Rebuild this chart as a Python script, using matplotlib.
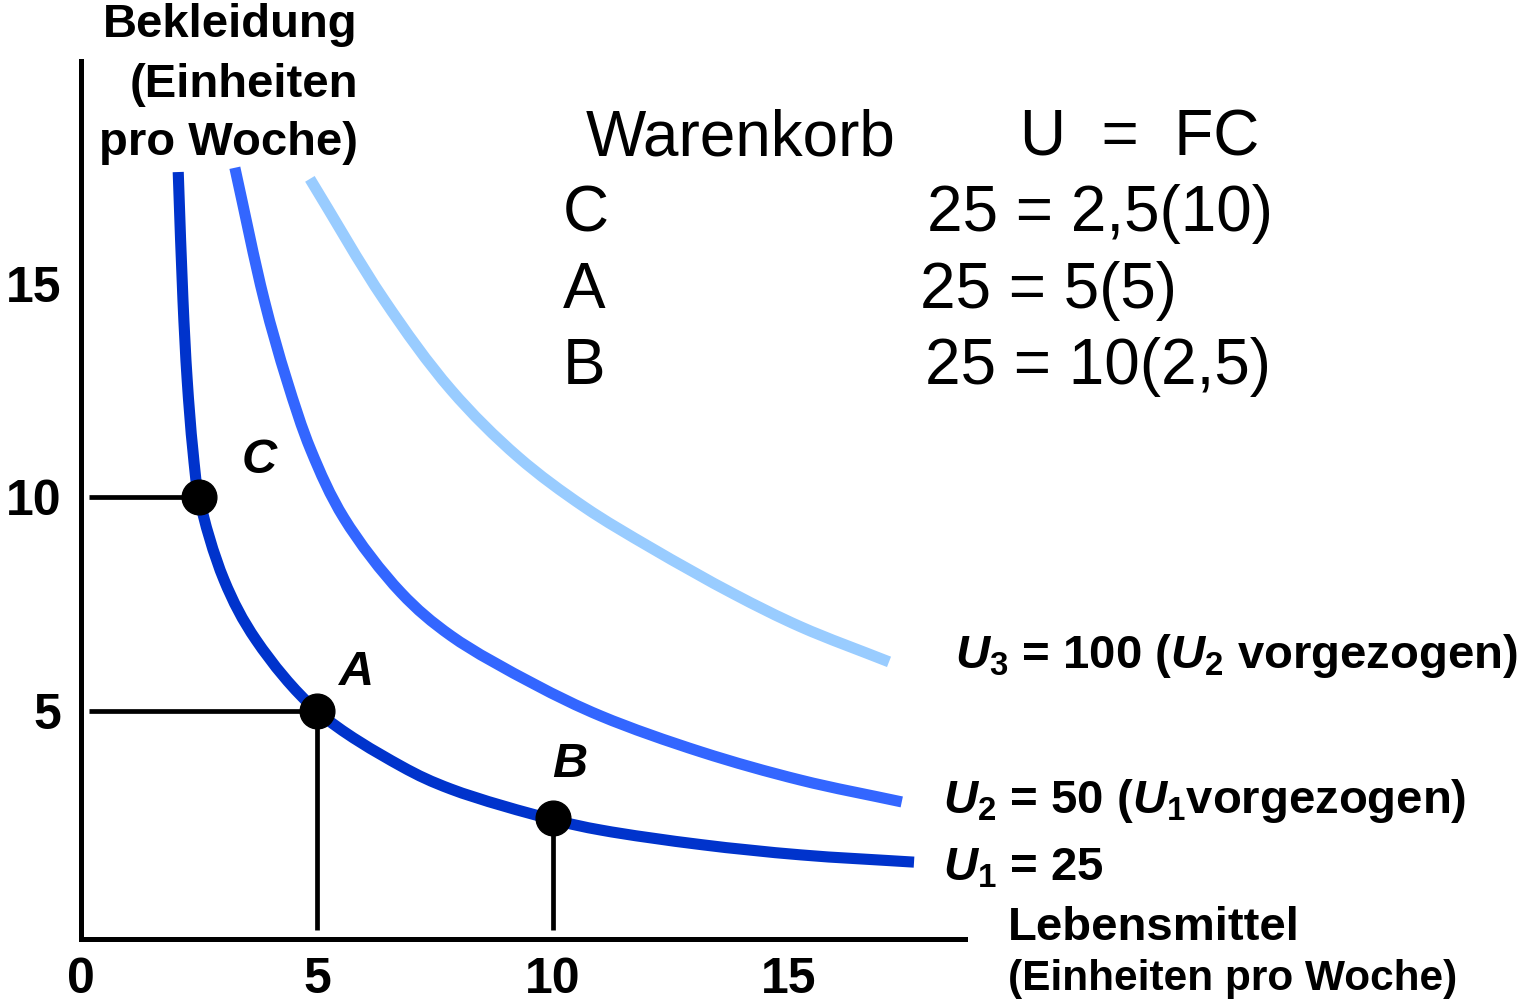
import numpy as np
import matplotlib
matplotlib.use("Agg")
import matplotlib.pyplot as plt
from matplotlib.path import Path
from matplotlib.patches import PathPatch

plt.rcParams['font.family'] = ['Liberation Sans', 'DejaVu Sans']
plt.rcParams['mathtext.fontset'] = 'custom'
plt.rcParams['mathtext.it'] = 'Liberation Sans:italic:bold'
plt.rcParams['mathtext.rm'] = 'Liberation Sans:bold'
plt.rcParams['mathtext.bf'] = 'Liberation Sans:bold'

# ---- data ----
u1_x = [2.06, 2.16, 2.25, 2.37, 2.5, 3.03, 3.71, 5.0, 6.78, 7.84, 10.02, 11.02, 13.14, 15.25, 17.65]
u1_y = [17.62, 14.63, 12.75, 11.11, 10.0, 8.07, 6.66, 5.0, 3.71, 3.17, 2.45, 2.21, 1.87, 1.63, 1.46]
u2_x = [3.26, 3.88, 4.36, 4.87, 5.57, 6.78, 7.84, 9.60, 11.02, 13.14, 15.25, 17.39]
u2_y = [17.72, 14.63, 12.75, 11.11, 9.52, 7.77, 6.76, 5.63, 4.88, 4.04, 3.38, 2.87]
u3_x = [4.85, 6.42, 7.84, 9.26, 10.66, 12.08, 13.83, 15.25, 17.12]
u3_y = [17.46, 14.63, 12.52, 10.95, 9.78, 8.82, 7.74, 6.97, 6.15]

point_names = ['C', 'A', 'B']
point_x = [2.5, 5.0, 10.0]      # Lebensmittel
point_y = [10.0, 5.0, 2.5]      # Bekleidung

x_ticks = [0, 5, 10, 15]
y_ticks = [5, 10, 15]

curve_labels = [r'$U_{\mathit{3}}$ = 100 ($U_{\mathit{2}}$ vorgezogen)',
                r'$U_{\mathit{2}}$ = 50 ($U_{\mathit{1}}$vorgezogen)',
                r'$U_{\mathit{1}}$ = 25']
table_header = ['Warenkorb', 'U  =  FC']
table_rows = [('C', '25 = 2,5(10)'), ('A', '25 = 5(5)'), ('B', '25 = 10(2,5)')]

# ---- figure ----
W, H = 1528, 1008
fig = plt.figure(figsize=(W / 100, H / 100), dpi=100)
ax = fig.add_axes([81 / W, 1 - 939 / H, (965 - 81) / W, (939 - 61) / H])
ax.set_xlim(0, 18.73)
ax.set_ylim(-0.34, 20.22)
for s in ['top', 'right']:
    ax.spines[s].set_visible(False)
for s in ['left', 'bottom']:
    ax.spines[s].set_linewidth(3.6)
    ax.spines[s].set_color('black')
ax.set_xticks(x_ticks)
ax.set_xticklabels([str(t) for t in x_ticks])
ax.set_yticks(y_ticks)
ax.set_yticklabels([str(t) for t in y_ticks])
ax.tick_params(axis='both', length=0, labelsize=36)
ax.tick_params(axis='x', pad=13)
ax.tick_params(axis='y', pad=14)
for lab in ax.get_xticklabels() + ax.get_yticklabels():
    lab.set_fontweight('bold')


def smooth_path(xs, ys, sx=47.2, sy=42.7, alpha=0.5):
    """Centripetal Catmull-Rom spline through the given points, as Bezier path."""
    P = np.column_stack([np.asarray(xs, float) * sx, np.asarray(ys, float) * sy])
    P = np.vstack([2 * P[0] - P[1], P, 2 * P[-1] - P[-2]])
    verts = [P[1]]
    codes = [Path.MOVETO]
    for i in range(1, len(P) - 2):
        p0, p1, p2, p3 = P[i - 1], P[i], P[i + 1], P[i + 2]
        t01 = np.linalg.norm(p1 - p0) ** alpha
        t12 = np.linalg.norm(p2 - p1) ** alpha
        t23 = np.linalg.norm(p3 - p2) ** alpha
        m1 = (p2 - p1) + t12 * ((p1 - p0) / t01 - (p2 - p0) / (t01 + t12))
        m2 = (p2 - p1) + t12 * ((p3 - p2) / t23 - (p3 - p1) / (t12 + t23))
        verts += [p1 + m1 / 3.0, p2 - m2 / 3.0, p2]
        codes += [Path.CURVE4] * 3
    V = np.array(verts)
    V[:, 0] /= sx
    V[:, 1] /= sy
    return Path(V, codes)


for xs, ys, col in [(u3_x, u3_y, '#99CCFF'), (u2_x, u2_y, '#3366FF'), (u1_x, u1_y, '#0033CC')]:
    patch = PathPatch(smooth_path(xs, ys), facecolor='none', edgecolor=col,
                      linewidth=8, capstyle='butt', joinstyle='round', zorder=2)
    ax.add_patch(patch)

# guide lines to the axes
ax.plot([0.17, point_x[0]], [point_y[0], point_y[0]], color='black', lw=3.4, zorder=3, solid_capstyle='butt')
ax.plot([0.17, point_x[1]], [point_y[1], point_y[1]], color='black', lw=3.4, zorder=3, solid_capstyle='butt')
ax.plot([point_x[1], point_x[1]], [-0.13, point_y[1]], color='black', lw=3.4, zorder=3, solid_capstyle='butt')
ax.plot([point_x[2], point_x[2]], [-0.13, point_y[2]], color='black', lw=3.4, zorder=3, solid_capstyle='butt')

ax.plot(point_x, point_y, 'o', color='black', markersize=25, zorder=4, clip_on=False)


def ftext(px, py, s, **kw):
    kw.setdefault('va', 'baseline')
    return fig.text(px / W, 1 - py / H, s, **kw)


# point labels
for name, (px, py) in zip(point_names, [(259, 473), (357, 685), (570, 777)]):
    ftext(px, py, name, fontsize=35, fontweight='bold', fontstyle='italic', ha='center')

# y-axis title
for line, py in zip(['Bekleidung', '(Einheiten', 'pro Woche)'], [37, 97, 155]):
    ftext(358, py, line, fontsize=34, fontweight='bold', ha='right')

# x-axis title
ftext(1008, 940, 'Lebensmittel', fontsize=34, fontweight='bold')
ftext(1008, 990, '(Einheiten pro Woche)', fontsize=30.5, fontweight='bold')

# curve labels
for lab, (px, py) in zip(curve_labels, [(955, 668), (943, 813), (943, 880)]):
    ftext(px, py, lab, fontsize=34, fontweight='bold')

# table
ftext(586, 155, table_header[0], fontsize=46)
ftext(1020, 155, table_header[1], fontsize=46)
for (name, eq), py, ex in zip(table_rows, [231, 308, 384], [927, 920, 925]):
    ftext(563, py, name, fontsize=46)
    ftext(ex, py, eq, fontsize=46)

fig.savefig('out.png', dpi=100)
